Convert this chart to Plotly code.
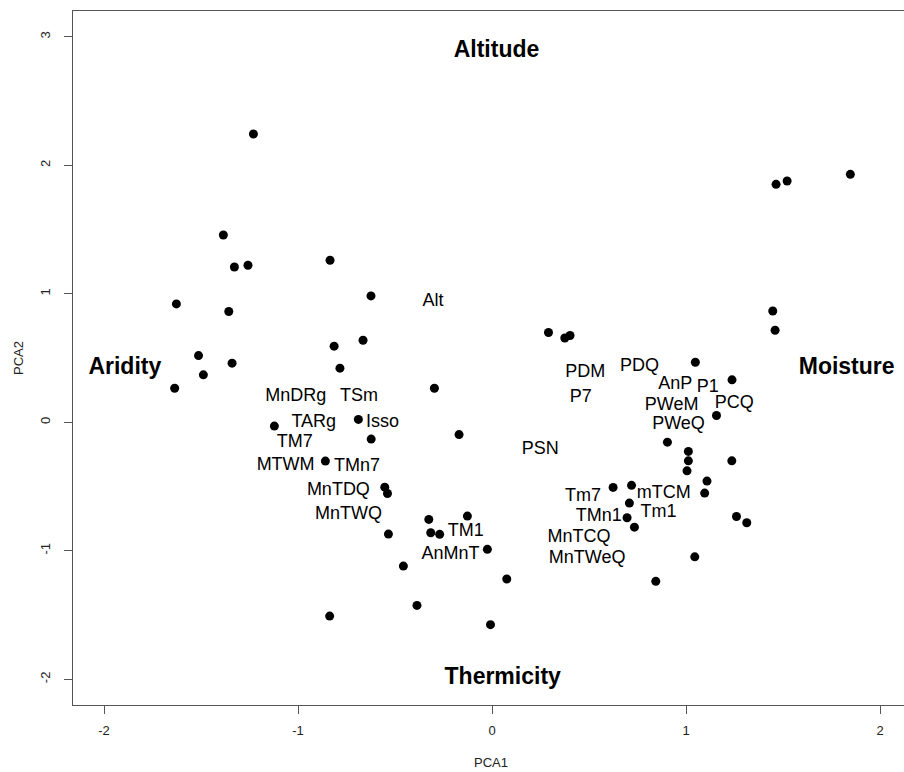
import plotly.graph_objects as go

# PCA scores of the sites (PCA1, PCA2)
site_pca1 = [-1.230, -1.385, -1.328, -1.258, -0.835, -1.627, -1.357, -0.624, -0.665, -0.814,
             -0.784, -1.513, -1.340, -1.488, -1.636, -0.297, -1.122, -0.689, -0.623, -0.170,
             -0.859, -0.553, -0.539, -0.326, -0.127, -0.534, -0.316, -0.270, -0.024, -0.457,
             0.076, -0.387, -0.837, -0.008, 1.447, 1.459, 0.291, 0.375, 0.402, 1.048,
             1.237, 1.157, 0.904, 1.012, 1.012, 1.005, 1.236, 1.108, 1.096, 0.624,
             0.719, 0.708, 0.696, 0.734, 1.260, 1.313, 1.045, 0.844, 1.464, 1.521, 1.847]
site_pca2 = [2.243, 1.457, 1.208, 1.222, 1.261, 0.921, 0.862, 0.983, 0.638, 0.592,
             0.421, 0.519, 0.460, 0.369, 0.265, 0.265, -0.030, 0.022, -0.131, -0.096,
             -0.302, -0.505, -0.554, -0.756, -0.730, -0.870, -0.860, -0.872, -0.989, -1.119,
             -1.220, -1.425, -1.508, -1.575, 0.866, 0.716, 0.698, 0.656, 0.675, 0.467,
             0.330, 0.053, -0.155, -0.227, -0.300, -0.378, -0.300, -0.458, -0.551, -0.507,
             -0.491, -0.629, -0.743, -0.816, -0.733, -0.782, -1.047, -1.238, 1.851, 1.877, 1.929]

# Climatic variables and their label positions
var_names = ["Alt", "MnDRg", "TSm", "TARg", "Isso", "TM7", "MTWM", "TMn7", "MnTDQ", "MnTWQ",
             "TM1", "AnMnT", "PDM", "PDQ", "AnP", "P1", "PWeM", "PCQ", "PWeQ", "P7",
             "PSN", "Tm7", "mTCM", "TMn1", "Tm1", "MnTCQ", "MnTWeQ"]
var_pca1 = [-0.304, -1.012, -0.686, -0.919, -0.565, -1.017, -1.064, -0.696, -0.792, -0.740,
            -0.136, -0.214, 0.481, 0.760, 0.945, 1.112, 0.926, 1.249, 0.961, 0.457,
            0.249, 0.469, 0.885, 0.550, 0.858, 0.448, 0.490]
var_pca2 = [0.936, 0.203, 0.203, 0.001, 0.001, -0.157, -0.334, -0.347, -0.533, -0.720,
            -0.847, -1.028, 0.384, 0.436, 0.294, 0.273, 0.133, 0.143, -0.020, 0.190,
            -0.215, -0.580, -0.554, -0.730, -0.701, -0.896, -1.059]

# Interpretation of the axes
gradient_names = ["Altitude", "Thermicity", "Aridity", "Moisture"]
gradient_pca1 = [0.023, 0.055, -1.893, 1.828]
gradient_pca2 = [2.888, -1.990, 0.423, 0.423]

x_ticks = [-2, -1, 0, 1, 2]
y_ticks = [-2, -1, 0, 1, 2, 3]

fig = go.Figure()

fig.add_trace(go.Scatter(
    x=site_pca1, y=site_pca2, mode="markers",
    marker=dict(color="black", size=9, line=dict(width=0)),
    hoverinfo="skip",
))

fig.add_trace(go.Scatter(
    x=var_pca1, y=var_pca2, mode="text", text=var_names,
    textposition="middle center",
    textfont=dict(family="Liberation Sans, Arial, sans-serif", size=18, color="black"),
    hoverinfo="skip",
))

fig.add_trace(go.Scatter(
    x=gradient_pca1, y=gradient_pca2, mode="text",
    text=["<b>%s</b>" % g for g in gradient_names],
    textposition="middle center",
    textfont=dict(family="Liberation Sans, Arial, sans-serif", size=23, color="black"),
    hoverinfo="skip",
))

axis_font = dict(family="Liberation Sans, Arial, sans-serif", size=13, color="#222222")

fig.update_layout(
    width=904, height=772,
    margin=dict(l=73, r=0, t=11, b=67, autoexpand=False),
    paper_bgcolor="white", plot_bgcolor="white",
    showlegend=False,
    xaxis=dict(
        range=[-2.16, -2.16 + 831 / 194.0],
        tickmode="array", tickvals=x_ticks, ticktext=[str(v) for v in x_ticks],
        ticks="outside", ticklen=8, tickwidth=1, tickcolor="#555555",
        ticklabelstandoff=5,
        showline=True, linecolor="#555555", linewidth=1, mirror=True,
        showgrid=False, zeroline=False, tickfont=axis_font,
    ),
    yaxis=dict(
        range=[-2.2, 3.2],
        tickmode="array", tickvals=y_ticks, ticktext=[str(v) for v in y_ticks],
        ticks="outside", ticklen=8, tickwidth=1, tickcolor="#555555",
        tickangle=-90, ticklabelstandoff=9,
        showline=True, linecolor="#555555", linewidth=1, mirror=False,
        showgrid=False, zeroline=False, tickfont=axis_font,
    ),
    annotations=[
        dict(text="PCA1", xref="paper", yref="paper", x=0.5 + (491 - (73 + 831 / 2)) / 831, y=0,
             yshift=-57, showarrow=False, xanchor="center", yanchor="middle", font=axis_font),
        dict(text="PCA2", xref="paper", yref="paper", x=0, y=0.5, xshift=-55,
             textangle=-90, showarrow=False, xanchor="center", yanchor="middle", font=axis_font),
    ],
)

fig.write_html("out.html")
